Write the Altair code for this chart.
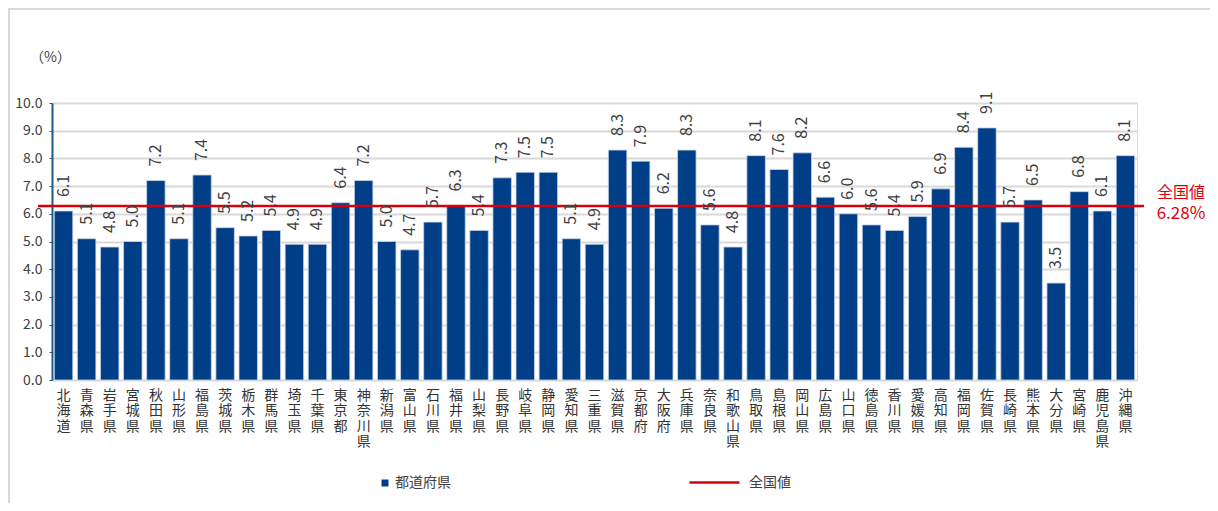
import altair as alt
import pandas as pd

prefs = ["北海道", "青森県", "岩手県", "宮城県", "秋田県", "山形県", "福島県", "茨城県", "栃木県", "群馬県",
         "埼玉県", "千葉県", "東京都", "神奈川県", "新潟県", "富山県", "石川県", "福井県", "山梨県", "長野県",
         "岐阜県", "静岡県", "愛知県", "三重県", "滋賀県", "京都府", "大阪府", "兵庫県", "奈良県", "和歌山県",
         "鳥取県", "島根県", "岡山県", "広島県", "山口県", "徳島県", "香川県", "愛媛県", "高知県", "福岡県",
         "佐賀県", "長崎県", "熊本県", "大分県", "宮崎県", "鹿児島県", "沖縄県"]
values = [6.1, 5.1, 4.8, 5.0, 7.2, 5.1, 7.4, 5.5, 5.2, 5.4,
          4.9, 4.9, 6.4, 7.2, 5.0, 4.7, 5.7, 6.3, 5.4, 7.3,
          7.5, 7.5, 5.1, 4.9, 8.3, 7.9, 6.2, 8.3, 5.6, 4.8,
          8.1, 7.6, 8.2, 6.6, 6.0, 5.6, 5.4, 5.9, 6.9, 8.4,
          9.1, 5.7, 6.5, 3.5, 6.8, 6.1, 8.1]
y_ticks = [0, 1, 2, 3, 4, 5, 6, 7, 8, 9, 10]
national_value = [6.28]
national_label = ["全国値"]
national_text = ["6.28%"]

FONT = "Noto Sans CJK JP"
BLUE = "#003f88"
RED = "#d9000d"
W, H = 1085, 277
PAD = {"left": 44, "top": 95, "right": 1202 - 44 - W, "bottom": 495 - 95 - H}

df = pd.DataFrame({"pref": prefs, "value": values})
nat = pd.DataFrame({"value": national_value, "name": national_label, "txt": national_text})

x = alt.X("pref:N", sort=None, title=None,
          scale=alt.Scale(paddingInner=0.2, paddingOuter=0.1),
          axis=alt.Axis(labelAngle=0, labelExpr="split(datum.label, '')", labelLineHeight=15.5,
                        labelBaseline="top", labelAlign="center", labelPadding=8,
                        labelFontSize=14, labelFont=FONT, labelColor="#333333",
                        labelOverlap=False,
                        domain=False, ticks=False, grid=False))
y = alt.Y("value:Q", scale=alt.Scale(domain=[0, 10], nice=False),
          axis=alt.Axis(values=y_ticks, tickCount=len(y_ticks) + 1, format=".1f", labelOverlap=False,
                        title="（%）", titleAngle=0, titleX=-2, titleY=-46, titleAlign="center",
                        titleBaseline="middle", titleFont=FONT, titleFontSize=14,
                        titleFontWeight="normal", titleColor="#404040",
                        labelFont=FONT, labelFontSize=14, labelColor="#404040", labelPadding=7,
                        domainColor="#1f5a84", domainWidth=2, tickColor="#1f5a84", tickSize=3,
                        gridColor="#d9d9d9", gridWidth=2))

base = alt.Chart(df)

bars = base.mark_bar(stroke="#c9d4e4", strokeWidth=0.8).encode(
    x=x, y=y,
    color=alt.Color("s:N", scale=alt.Scale(domain=["都道府県"], range=[BLUE]),
                    legend=alt.Legend(orient="none", legendX=326, legendY=373, title=None,
                                      symbolType="square", symbolSize=49, padding=0,
                                      labelFont=FONT, labelFontSize=14, labelColor="#404040",
                                      labelOffset=3, symbolStrokeWidth=0))
).transform_calculate(s="'都道府県'")

labels = base.mark_text(angle=270, align="left", baseline="middle", yOffset=-14,
                        font=FONT, fontSize=16, color="#404040").encode(
    x=x, y=y, text=alt.Text("value:Q", format=".1f"))

rule = alt.Chart(nat).mark_rule(strokeWidth=2.5).encode(
    y=y, x=alt.value(-14), x2=alt.value(W + 7),
    stroke=alt.Stroke("name:N", scale=alt.Scale(domain=["全国値"], range=[RED]),
                      legend=alt.Legend(orient="none", legendX=636, legendY=353, title=None,
                                        symbolType="stroke", symbolSize=2500, symbolStrokeWidth=2.5,
                                        padding=0, labelFont=FONT, labelFontSize=14,
                                        labelColor="#404040", labelOffset=8)))

nat_name = alt.Chart(nat).mark_text(font=FONT, fontSize=16, color=RED, align="center",
                                    baseline="middle", yOffset=-13).encode(
    y=y, x=alt.value(1181 - 52), text="name:N")
nat_val = alt.Chart(nat).mark_text(font=FONT, fontSize=17, color=RED, align="center",
                                   baseline="middle", yOffset=8).encode(
    y=y, x=alt.value(1181 - 52), text="txt:N")

frame_top = alt.Chart(nat).mark_rule(color="#d9d9d9", strokeWidth=2).encode(
    x=alt.value(-44), x2=alt.value(1202 - 44), y=alt.value(-94))
frame_left = alt.Chart(nat).mark_rule(color="#d9d9d9", strokeWidth=2).encode(
    x=alt.value(-43), y=alt.value(-95), y2=alt.value(495 - 95))

chart = alt.layer(frame_top, frame_left, bars, rule, labels, nat_name, nat_val).resolve_scale(
    color="independent", stroke="independent"
).properties(
    width=W, height=H, padding=PAD, autosize=alt.AutoSizeParams(type="none")
).configure_view(stroke=None).configure(background="white")

chart.save("out.html", embed_options={"renderer": "svg", "actions": False})
